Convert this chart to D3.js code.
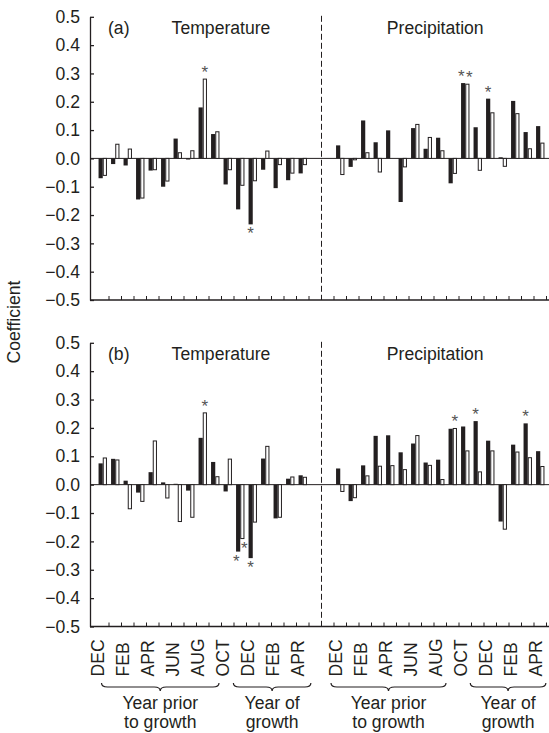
<!DOCTYPE html>
<html>
<head>
<meta charset="utf-8">
<script src="https://cdn.jsdelivr.net/npm/d3@7"></script>
<style>
  html, body { margin: 0; padding: 0; background: #fff; }
  svg { display: block; font-family: "Liberation Sans", Arial, Helvetica, sans-serif; }
  text { fill: #231f20; }
</style>
</head>
<body>
<svg id="chart" width="549" height="733"></svg>
<script>
// months shown on each half (DEC of two years before growth .. APR of growth year)
const months = ['DEC','JAN','FEB','MAR','APR','MAY','JUN','JUL','AUG','SEP','OCT','NOV','DEC','JAN','FEB','MAR','APR'];
const yTicks = [-0.5, -0.4, -0.3, -0.2, -0.1, 0, 0.1, 0.2, 0.3, 0.4, 0.5];

// panel (a)
const tempA_black = [-0.07, -0.02, -0.025, -0.145, -0.043, -0.1, 0.07, -0.004, 0.18, 0.086, -0.092, -0.18, -0.233, -0.04, -0.105, -0.077, -0.053];
const tempA_white = [-0.06, 0.05, 0.033, -0.14, -0.04, -0.08, 0.02, 0.027, 0.28, 0.094, -0.04, -0.095, -0.079, 0.026, -0.022, -0.052, -0.022];
const precA_black = [0.046, -0.03, 0.134, 0.057, 0.099, -0.154, 0.107, 0.034, 0.073, -0.088, 0.266, 0.11, 0.211, 0.004, 0.203, 0.093, 0.114];
const precA_white = [-0.057, -0.005, 0.02, -0.048, 0, -0.03, 0.12, 0.074, 0.027, -0.053, 0.262, -0.042, 0.161, -0.028, 0.158, 0.034, 0.054];

// panel (b)
const tempB_black = [0.075, 0.091, 0.014, -0.028, 0.044, 0.008, 0.003, -0.021, 0.165, 0.08, -0.024, -0.236, -0.259, 0.092, -0.119, 0.021, 0.033];
const tempB_white = [0.094, 0.087, -0.085, -0.059, 0.154, -0.047, -0.13, -0.115, 0.253, 0.028, 0.09, -0.19, -0.132, 0.135, -0.115, 0.027, 0.026];
const precB_black = [0.057, -0.058, 0.068, 0.172, 0.174, 0.114, 0.145, 0.078, 0.088, 0.197, 0.205, 0.224, 0.155, -0.13, 0.141, 0.216, 0.118];
const precB_white = [-0.024, -0.046, 0.031, 0.065, 0.067, 0.053, 0.173, 0.068, 0.018, 0.198, 0.119, 0.045, 0.119, -0.157, 0.115, 0.095, 0.064];

// significant coefficients: [month index, 'b' black / 'w' white]
const sigTempA = [[8, 'w'], [12, 'b']];
const sigPrecA = [[10, 'b'], [10, 'w'], [12, 'b']];
const sigTempB = [[8, 'w'], [11, 'b'], [11, 'w'], [12, 'b']];
const sigPrecB = [[9, 'w'], [11, 'b'], [15, 'b']];

// brace groups under the x axis (month units within a half)
const groupsTemp = [{ from: -0.1, to: 9.3, lines: ['Year prior', 'to growth'] }, { from: 10.45, to: 16.65, lines: ['Year of', 'growth'] }];
const groupsPrec = [{ from: -0.74, to: 8.46, lines: ['Year prior', 'to growth'] }, { from: 10.4, to: 16.45, lines: ['Year of', 'growth'] }];

const precOffset = 19;   // slot where precipitation DEC sits
const svg = d3.select('#chart');

// slot boundary scale: slot k spans [x(k), x(k+1)]
const x = d3.scaleLinear().domain([0, 1]).range([96.5, 109]);
const xc = k => x(k + 0.5);
const axisLeftX = x(-0.52);
const dividerX = x(18);
const rightX = 549;
const barW = 4.2;
const fs = 17.6;

function drawPanel(yTop, yBottom, label, tb, tw, pb, pw, sigT, sigP, showLabels) {
    const y = d3.scaleLinear().domain([-0.5, 0.5]).range([yBottom, yTop]);
    const g = svg.append('g');

    // y axis
    g.append('g')
        .attr('transform', `translate(${axisLeftX},0)`)
        .call(d3.axisLeft(y).tickValues(yTicks).tickSizeInner(-4).tickSizeOuter(0).tickPadding(10)
            .tickFormat(d3.format('.1f')))
        .call(a => a.selectAll('text').style('font-size', fs + 'px').style('font-family', 'inherit').attr('fill', '#231f20'))
        .call(a => a.selectAll('line, path').attr('stroke', '#231f20').attr('stroke-width', 1.3));

    // bottom axis with ticks at month boundaries
    g.append('line')
        .attr('x1', axisLeftX).attr('x2', rightX)
        .attr('y1', y(-0.5)).attr('y2', y(-0.5))
        .attr('stroke', '#231f20').attr('stroke-width', 1.3);
    g.selectAll('.xtick')
        .data(d3.range(1, 37))
        .enter().append('line')
        .attr('x1', d => x(d)).attr('x2', d => x(d))
        .attr('y1', y(-0.5)).attr('y2', y(-0.5) - 4)
        .attr('stroke', '#231f20').attr('stroke-width', 1);

    // zero line
    g.append('line')
        .attr('x1', axisLeftX).attr('x2', rightX)
        .attr('y1', y(0)).attr('y2', y(0))
        .attr('stroke', '#231f20').attr('stroke-width', 1);

    // dashed divider
    g.append('line')
        .attr('x1', dividerX).attr('x2', dividerX)
        .attr('y1', y(0.5) - 1).attr('y2', y(-0.5))
        .attr('stroke', '#231f20').attr('stroke-width', 1)
        .attr('stroke-dasharray', '6,3');

    // bars
    const blocks = [
        { off: 0, black: tb, white: tw, sig: sigT },
        { off: precOffset, black: pb, white: pw, sig: sigP }
    ];
    blocks.forEach(b => {
        g.selectAll(null)
            .data(b.black)
            .enter().append('rect')
            .attr('x', (d, i) => xc(i + b.off) - barW)
            .attr('width', barW)
            .attr('y', d => y(Math.max(0, d)))
            .attr('height', d => Math.abs(y(d) - y(0)))
            .attr('fill', '#231f20');
        g.selectAll(null)
            .data(b.white)
            .enter().append('rect')
            .attr('x', (d, i) => xc(i + b.off) + 0.5)
            .attr('width', barW - 1)
            .attr('y', d => y(Math.max(0, d)))
            .attr('height', d => Math.abs(y(d) - y(0)))
            .attr('fill', '#fff')
            .attr('stroke', '#231f20')
            .attr('stroke-width', 1);
        // asterisks (spread apart a bit when both bars of a month are marked)
        g.selectAll(null)
            .data(b.sig)
            .enter().append('text')
            .attr('x', d => {
                const both = b.sig.filter(s => s[0] === d[0]).length > 1;
                const dx = both ? barW * 0.95 : barW / 2;
                return xc(d[0] + b.off) + (d[1] === 'b' ? -dx : dx);
            })
            .attr('y', d => {
                const v = (d[1] === 'b' ? b.black : b.white)[d[0]];
                return v >= 0 ? y(v) - 1 : y(v) + 15;
            })
            .attr('text-anchor', 'middle')
            .style('font-size', '17px')
            .style('fill', '#555')
            .text('*');
    });

    // panel titles
    const ty = y(0.5) + 17;
    g.append('text').attr('x', x(0.92)).attr('y', ty).style('font-size', fs + 'px').text(label);
    g.append('text').attr('x', xc(9.46)).attr('y', ty).attr('text-anchor', 'middle').style('font-size', fs + 'px').text('Temperature');
    g.append('text').attr('x', xc(precOffset + 7.6)).attr('y', ty).attr('text-anchor', 'middle').style('font-size', fs + 'px').text('Precipitation');

    if (showLabels) {
        const labY = y(-0.5) + 50;
        blocks.forEach(b => {
            g.selectAll(null)
                .data(months.map((m, i) => ({ m, i })).filter(d => d.i % 2 === 0))
                .enter().append('text')
                .attr('transform', d => `translate(${xc(d.i + b.off) + 1.3},${labY}) rotate(-90)`)
                .attr('text-anchor', 'start')
                .style('font-size', fs + 'px')
                .text(d => d.m);
        });
    }
}

drawPanel(16.8, 300, '(a)', tempA_black, tempA_white, precA_black, precA_white, sigTempA, sigPrecA, false);
drawPanel(342.8, 626.5, '(b)', tempB_black, tempB_white, precB_black, precB_white, sigTempB, sigPrecB, true);

// y axis title
svg.append('text')
    .attr('transform', 'translate(20,322) rotate(-90)')
    .attr('text-anchor', 'middle')
    .style('font-size', fs + 'px')
    .text('Coefficient');

// braces and group labels
function bracePath(x1, x2, y0, h) {
    const ym = y0 + h / 2, y1 = y0 + h, xm = (x1 + x2) / 2, r = 6;
    return `M${x1},${y0} Q${x1},${ym} ${x1 + r},${ym} L${xm - r},${ym} Q${xm},${ym} ${xm},${y1}` +
        ` Q${xm},${ym} ${xm + r},${ym} L${x2 - r},${ym} Q${x2},${ym} ${x2},${y0}`;
}
[[groupsTemp, 0], [groupsPrec, precOffset]].forEach(([groups, off]) => {
    groups.forEach(gr => {
        const x1 = xc(gr.from + off), x2 = xc(gr.to + off);
        svg.append('path')
            .attr('d', bracePath(x1, x2, 683, 8))
            .attr('fill', 'none')
            .attr('stroke', '#231f20')
            .attr('stroke-width', 1.2);
        gr.lines.forEach((t, j) => {
            svg.append('text')
                .attr('x', (x1 + x2) / 2)
                .attr('y', 709 + j * 19)
                .attr('text-anchor', 'middle')
                .style('font-size', fs + 'px')
                .text(t);
        });
    });
});
</script>
</body>
</html>
